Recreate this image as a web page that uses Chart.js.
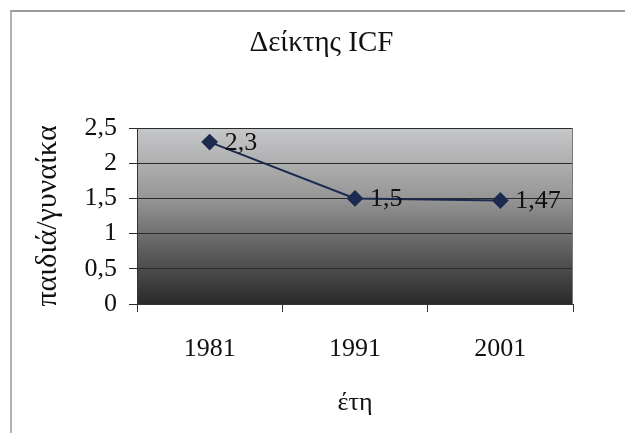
<!DOCTYPE html>
<html>
<head>
<meta charset="utf-8">
<script src="https://cdn.jsdelivr.net/npm/chart.js@4"></script>
<style>
  body { margin: 0; background: #fff; }
  #wrap { position: relative; width: 625px; height: 433px; }
  #frame { position: absolute; left: 10px; top: 10px; right: 0; bottom: 0;
           border-left: 2px solid #b0b0b0; border-top: 2px solid #9a9a9a; }
  canvas { position: absolute; left: 0; top: 0; }
</style>
</head>
<body>
<div id="wrap">
  <div id="frame"></div>
  <canvas id="icfChart" width="625" height="433"></canvas>
</div>
<script>
const years = ['1981', '1991', '2001'];
const icfValues = [2.3, 1.5, 1.47];
const yTicks = [0, 0.5, 1, 1.5, 2, 2.5];
const chartTitle = 'Δείκτης ICF';

const serif = "'Liberation Serif', 'DejaVu Serif', serif";

// Φόντο με διαβάθμιση στην περιοχή του γραφήματος
const plotBackground = {
    id: 'plotBackground',
    beforeDraw(chart) {
        const { ctx, chartArea: a } = chart;
        const g = ctx.createLinearGradient(0, a.top, 0, a.bottom);
        g.addColorStop(0, '#c6c7c9');
        g.addColorStop(0.4, '#969696');
        g.addColorStop(0.75, '#545454');
        g.addColorStop(1, '#2a2a2a');
        ctx.save();
        ctx.fillStyle = g;
        ctx.fillRect(a.left, a.top, a.right - a.left, a.bottom - a.top);
        ctx.restore();
    },
    afterDatasetsDraw(chart) {
        const { ctx, chartArea: a } = chart;
        ctx.save();
        ctx.strokeStyle = '#777';
        ctx.lineWidth = 1;
        ctx.beginPath();
        ctx.moveTo(a.right - 0.5, a.top);
        ctx.lineTo(a.right - 0.5, a.bottom);
        ctx.stroke();
        ctx.restore();
    }
};

// Τίτλος στο κέντρο ολόκληρου του πλαισίου
const frameTitle = {
    id: 'frameTitle',
    afterDraw(chart) {
        const { ctx, width } = chart;
        ctx.save();
        ctx.font = '29px ' + serif;
        ctx.fillStyle = '#111';
        ctx.textAlign = 'center';
        ctx.textBaseline = 'middle';
        ctx.fillText(chartTitle, width / 2 + 9, 43);
        ctx.restore();
    }
};

// Ετικέτες τιμών δίπλα στα σημεία
const valueLabels = {
    id: 'valueLabels',
    afterDatasetsDraw(chart) {
        const { ctx } = chart;
        const meta = chart.getDatasetMeta(0);
        ctx.save();
        ctx.font = '26px ' + serif;
        ctx.fillStyle = '#111';
        ctx.textBaseline = 'middle';
        meta.data.forEach((pt, i) => {
            const txt = String(icfValues[i]).replace('.', ',');
            ctx.fillText(txt, pt.x + 15, pt.y + 1);
        });
        ctx.restore();
    }
};

const data = {
    labels: years,
    datasets: [{
        data: icfValues,
        borderColor: '#1b2a4e',
        backgroundColor: '#1b2a4e',
        borderWidth: 2,
        pointStyle: 'rectRot',
        pointRadius: 7,
        pointHoverRadius: 7,
        tension: 0
    }]
};

const options = {
    responsive: false,
    animation: false,
    layout: { padding: { left: 30, right: 52, top: 128, bottom: 10 } },
    plugins: {
        legend: { display: false },
        tooltip: { enabled: false },
        title: { display: false }
    },
    scales: {
        x: {
            offset: true,
            afterFit: s => { s.height = 119; },
            grid: {
                offset: true,
                drawOnChartArea: false,
                color: '#333',
                tickLength: 8
            },
            border: { color: '#333' },
            ticks: {
                color: '#111',
                padding: 22,
                font: { family: serif, size: 26 }
            },
            title: {
                display: true,
                text: 'έτη',
                color: '#111',
                font: { family: serif, size: 26 },
                padding: { top: 4, bottom: 4 }
            }
        },
        y: {
            min: 0,
            max: 2.5,
            afterFit: s => { s.width = 107; },
            afterBuildTicks: axis => { axis.ticks = yTicks.map(v => ({ value: v })); },
            grid: {
                color: '#2a2a2a',
                tickLength: 8
            },
            border: { color: '#333' },
            ticks: {
                color: '#111',
                padding: 12,
                font: { family: serif, size: 26 },
                callback: v => String(v).replace('.', ',')
            },
            title: {
                display: true,
                text: 'παιδιά/γυναίκα',
                color: '#111',
                font: { family: serif, size: 30 },
                padding: { top: 0, bottom: 0 }
            }
        }
    }
};

new Chart('icfChart', { type: 'line', data, options, plugins: [plotBackground, valueLabels, frameTitle] });
</script>
</body>
</html>
